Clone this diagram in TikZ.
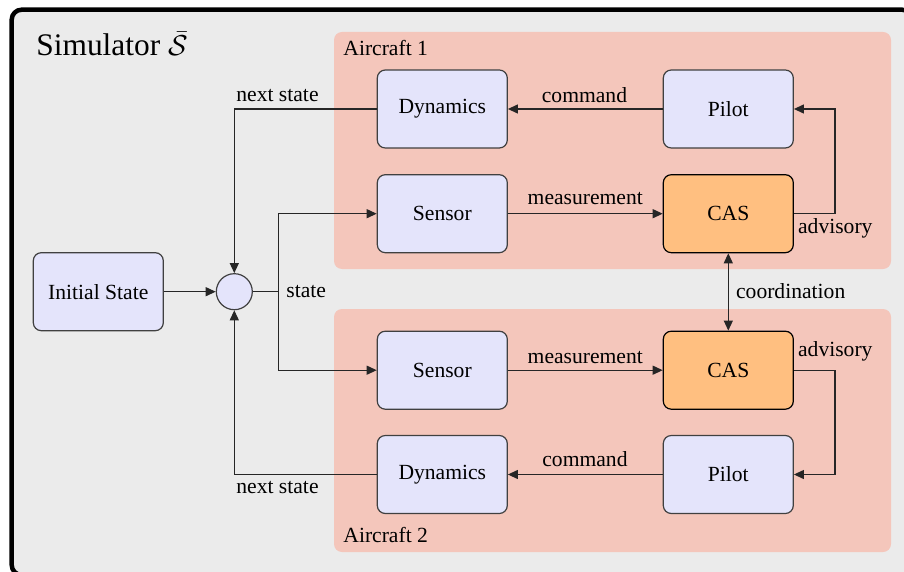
\documentclass[tikz,border=0pt]{standalone}
\usepackage{fontspec}
\setmainfont{Liberation Serif}
\usetikzlibrary{arrows.meta}
\definecolor{bgray}{HTML}{EBEBEB}
\definecolor{pinkreg}{HTML}{F4C6BB}
\definecolor{lavbox}{HTML}{E4E4FB}
\definecolor{casor}{HTML}{FFBF80}
\begin{document}
\begin{tikzpicture}[x=0.5pt,y=-0.5pt,
  blk/.style={draw=black!75, fill=lavbox, rounded corners=4pt, minimum width=65pt, minimum height=39pt, inner sep=0pt, line width=0.6pt, font=\fontsize{10.8}{13}\selectfont},
  cas/.style={blk, fill=casor, draw=black},
  conn/.style={line width=0.6pt, draw=black!85},
  arr/.style={conn, -{Triangle[length=5pt,width=4.5pt]}},
  lbl/.style={font=\fontsize{10.8}{13}\selectfont, inner sep=0pt, anchor=base west},
  region/.style={fill=pinkreg, rounded corners=4pt, draw=none}]
\useasboundingbox (0,0) rectangle (904,572);
\draw[line width=2.25pt, fill=bgray, rounded corners=5pt] (11.7,9.7) rectangle (912,575);
\fill[region] (334,32) rectangle (891,269);
\fill[region] (334,309) rectangle (891,552);

\node[blk] (dyn1) at (442.3,109) {Dynamics};
\node[blk] (pil1) at (728.3,109) {Pilot};
\node[blk] (sen1) at (442.3,213.7) {Sensor};
\node[cas] (cas1) at (728.3,213.7) {CAS};
\node[blk] (init) at (98.3,291.7) {Initial State};
\node[circle, draw=black!75, line width=0.6pt, fill=lavbox, minimum size=18pt, inner sep=0pt] (sum) at (234.3,291.7) {};
\node[blk] (sen2) at (442.3,370.2) {Sensor};
\node[cas] (cas2) at (728.3,370.2) {CAS};
\node[blk] (dyn2) at (442.3,474.5) {Dynamics};
\node[blk] (pil2) at (728.3,474.5) {Pilot};

\coordinate (split) at (278.3,291.7);
\coordinate (adv1) at (835,213.7);
\coordinate (adv2) at (835,370.2);

\draw[arr] (init) -- (sum);
\draw[arr] (dyn1.west) -| (sum.north);
\draw[arr] (dyn2.west) -| (sum.south);
\draw[conn] (sum.east) -- (split);
\draw[arr] (split) |- (sen1.west);
\draw[arr] (split) |- (sen2.west);
\draw[arr] (sen1) -- (cas1);
\draw[arr] (sen2) -- (cas2);
\draw[arr] (pil1) -- (dyn1);
\draw[arr] (pil2) -- (dyn2);
\draw[arr] (cas1.east) -- (adv1) |- (pil1.east);
\draw[arr] (cas2.east) -- (adv2) |- (pil2.east);
\draw[conn, {Triangle[length=5pt,width=4.5pt]}-{Triangle[length=5pt,width=4.5pt]}] (cas1) -- (cas2);

\node[lbl] (title) at (36,56) {\fontsize{15.7}{18}\selectfont Simulator $\bar{\mathcal{S}}$};
\node[lbl] (ac1) at (343,55.7) {Aircraft 1};
\node[lbl] (ac2) at (343,542.7) {Aircraft 2};
\node[lbl] (ns1) at (236,101.7) {next state};
\node[lbl] (ns2) at (236,493.3) {next state};
\node[lbl] (cm1) at (541.5,102.3) {command};
\node[lbl] (cm2) at (542,466.7) {command};
\node[lbl] (ms1) at (527.3,205) {measurement};
\node[lbl] (ms2) at (527.3,363.3) {measurement};
\node[lbl] (ad1) at (797.7,233.3) {advisory};
\node[lbl] (ad2) at (797.7,356.7) {advisory};
\node[lbl] (co) at (735.7,298.3) {coordination};
\node[lbl] (st) at (286,297.7) {state};
\end{tikzpicture}
\end{document}
